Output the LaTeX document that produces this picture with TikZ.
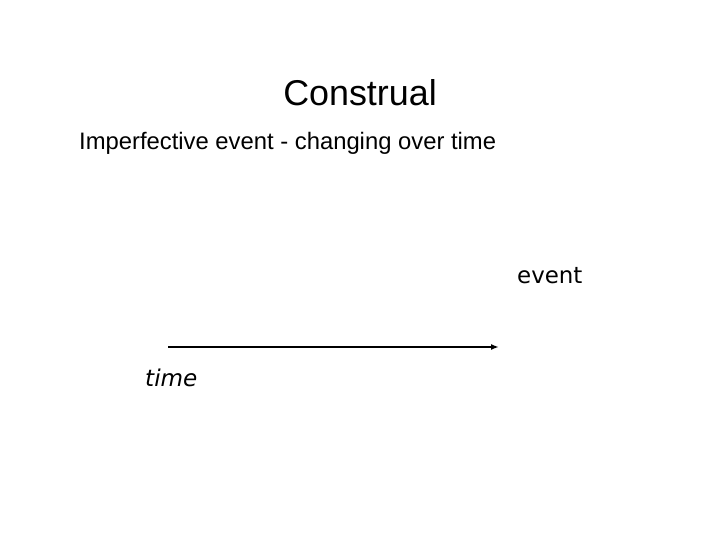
\documentclass[tikz,border=0pt]{standalone}
\usepackage{fontspec}
\setmainfont{Liberation Sans}
\newfontfamily\dejavu{DejaVu Sans}
\usetikzlibrary{arrows.meta}
\begin{document}
\begin{tikzpicture}[x=1bp,y=-1bp,
  lbl/.style={inner sep=0pt, anchor=west},
  timearrow/.style={line width=1.6bp, -{Latex[length=8bp,width=6bp]}}]
\useasboundingbox[fill=white] (0,0) rectangle (720,540);
\node[inner sep=0pt] (title) at (360,93) {\fontsize{36}{42}\selectfont Construal};
\node[lbl] (sub) at (79,143) {\fontsize{23.9}{28}\selectfont Imperfective event - changing over time};
\node[lbl] (ev) at (517,276) {\dejavu\fontsize{23}{27}\selectfont event};
\node[lbl] (tm) at (145,378) {\dejavu\itshape\fontsize{23.2}{27}\selectfont time};
\coordinate (a0) at (168,347);
\coordinate (a1) at (499,347);
\draw[timearrow] (a0) -- (a1);
\end{tikzpicture}
\end{document}
